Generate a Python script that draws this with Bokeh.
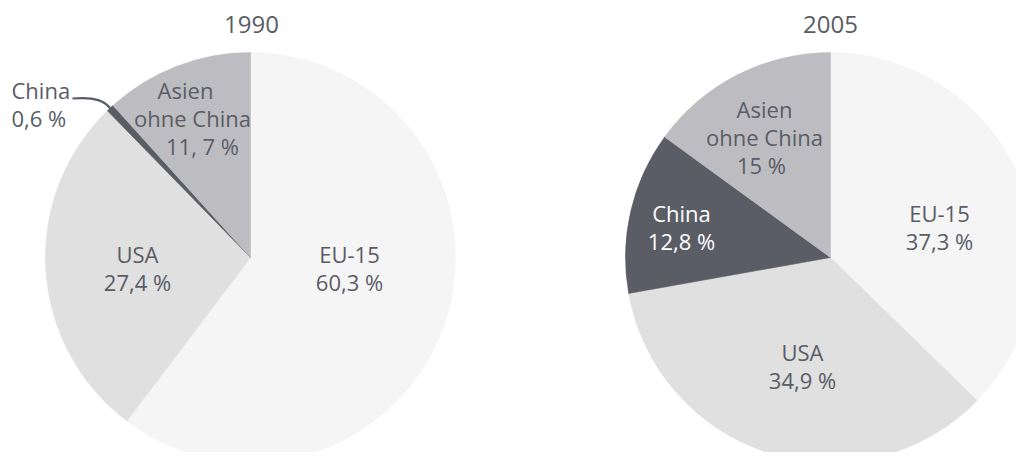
import numpy as np
from bokeh.plotting import figure
from bokeh.models import Range1d, ColumnDataSource
from bokeh.core.properties import value
from bokeh.embed import file_html
from bokeh.resources import INLINE

# ---- data ----
categories = ["EU-15", "USA", "China", "Asien ohne China"]
share_1990 = [60.3, 27.4, 0.6, 11.7]
share_2005 = [37.3, 34.9, 12.8, 15.0]
titles = ["1990", "2005"]
colors = ["#f5f5f5", "#e0e0e0", "#5a5c66", "#bdbcc1"]

# label lines (text) per chart
labels_1990 = [["EU-15", "60,3 %"], ["USA", "27,4 %"], ["China", "0,6 %"], ["Asien", "ohne China", "11, 7 %"]]
labels_2005 = [["EU-15", "37,3 %"], ["USA", "34,9 %"], ["China", "12,8 %"], ["Asien", "ohne China", "15 %"]]

# ---- layout (reference px, converted to figure coords) ----
W, H = 1016, 452
def fx(x): return x
def fy(y): return H - y

TEXT = "#5a5c66"
FONT = "Open Sans"

p = figure(width=W, height=H, x_range=Range1d(0, W), y_range=Range1d(0, H),
           output_backend="svg", toolbar_location=None, min_border=0)
p.axis.visible = False
p.grid.visible = False
p.outline_line_color = None
p.background_fill_color = "white"

R = 205
centers = [(250, 257), (830, 257)]

for shares, (cx, cy) in zip([share_1990, share_2005], centers):
    v = np.array(shares, dtype=float)
    frac = v / v.sum()
    cum = np.concatenate([[0], np.cumsum(frac)])
    start = np.pi / 2 - 2 * np.pi * cum[:-1]
    end = np.pi / 2 - 2 * np.pi * cum[1:]
    src = ColumnDataSource(dict(start=start, end=end, color=colors, cat=categories))
    p.wedge(x=fx(cx), y=fy(cy), radius=R, start_angle="start", end_angle="end",
            direction="clock", fill_color="color", line_color="color", line_width=0.6,
            source=src)

# titles
p.text(x=[fx(251), fx(830)], y=[fy(24), fy(24)], text=titles,
       text_font=value(FONT), text_font_size="24px", text_color=TEXT,
       text_align="center", text_baseline="middle")

def put(lines, xs, ys, color=TEXT, align="center"):
    p.text(x=[fx(x) for x in xs], y=[fy(y) for y in ys], text=lines,
           text_font=value(FONT), text_font_size="22px", text_color=color,
           text_align=align, text_baseline="middle")

# 1990 labels
put(labels_1990[0], [349, 349], [253, 281])
put(labels_1990[1], [137, 137], [253, 281])
put(labels_1990[2], [11, 11], [89, 117], align="left")
put(labels_1990[3], [185, 192, 202], [89, 117, 145])

# 2005 labels
put(labels_2005[0], [939, 939], [212, 240])
put(labels_2005[1], [802, 802], [351, 379])
put(labels_2005[2], [681, 681], [212, 240], color="white")
put(labels_2005[3], [764, 764, 761], [108, 136, 164])

# leader line for China 1990
p.bezier(x0=fx(72), y0=fy(98), x1=fx(110), y1=fy(108), cx0=fx(96), cy0=fy(96),
         cx1=fx(104), cy1=fy(101), line_color=TEXT, line_width=2.2)

open("out.html", "w").write(file_html(p, INLINE))
